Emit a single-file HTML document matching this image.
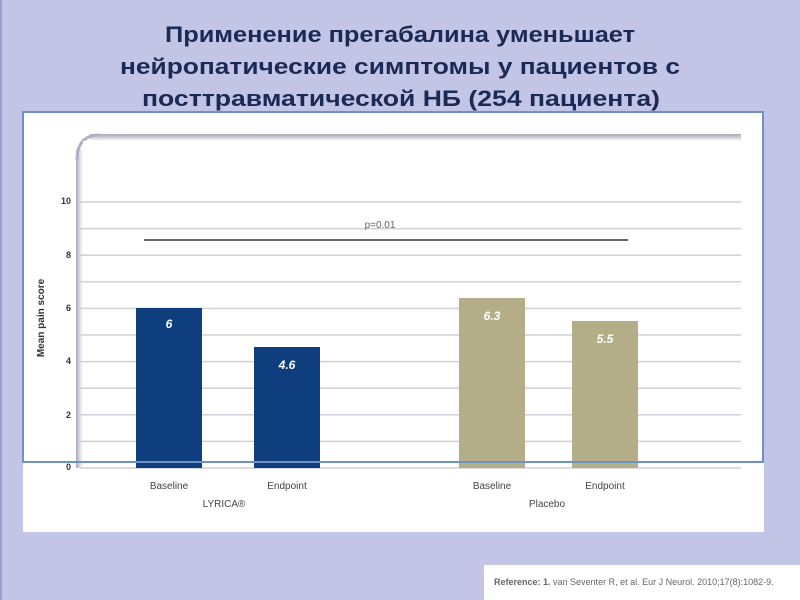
<!DOCTYPE html>
<html><head><meta charset="utf-8"><style>
html,body{margin:0;padding:0;}
body{width:800px;height:600px;background:#c3c5e6;overflow:hidden;position:relative;font-family:"Liberation Sans",sans-serif;}
</style></head><body>
<svg width="800" height="600" viewBox="0 0 800 600" xmlns="http://www.w3.org/2000/svg" style="position:absolute;left:0;top:0">
<defs>
<linearGradient id="sh" x1="0" y1="0" x2="0" y2="1">
<stop offset="0" stop-color="#a8a8b8"/><stop offset="0.4" stop-color="#c8c8cc"/><stop offset="1" stop-color="#ffffff"/>
</linearGradient>
<linearGradient id="shl" x1="0" y1="0" x2="1" y2="0">
<stop offset="0" stop-color="#a8a8c0"/><stop offset="0.5" stop-color="#d8d8e0"/><stop offset="1" stop-color="#ffffff"/>
</linearGradient>
</defs>
<rect x="0" y="0" width="2" height="600" fill="#9aa0c8"/>
<g font-family="Liberation Sans, DejaVu Sans, sans-serif" font-weight="bold" font-size="22" fill="#1b2a55" text-anchor="middle">
<text x="400" y="42" textLength="470" lengthAdjust="spacingAndGlyphs">Применение прегабалина уменьшает</text>
<text x="400" y="74" textLength="560" lengthAdjust="spacingAndGlyphs">нейропатические симптомы у пациентов с</text>
<text x="401" y="106" textLength="518" lengthAdjust="spacingAndGlyphs">посттравматической НБ (254 пациента)</text>
</g>
<rect x="23" y="112" width="741" height="420" fill="#fff"/>
<rect x="90" y="134" width="651" height="7" fill="url(#sh)"/>
<rect x="76" y="150" width="7" height="318" fill="url(#shl)"/>
<path d="M77 160 Q77 135 100 135" fill="none" stroke="#b0b2c8" stroke-width="3"/>
<rect x="83" y="141" width="658" height="327" fill="#fff"/>
<g stroke="#cfd0d8" stroke-width="1.5">
<line x1="80" y1="202" x2="741" y2="202"/><line x1="80" y1="228.6" x2="741" y2="228.6"/>
<line x1="80" y1="255.2" x2="741" y2="255.2"/><line x1="80" y1="281.8" x2="741" y2="281.8"/>
<line x1="80" y1="308.4" x2="741" y2="308.4"/><line x1="80" y1="335" x2="741" y2="335"/>
<line x1="80" y1="361.6" x2="741" y2="361.6"/><line x1="80" y1="388.2" x2="741" y2="388.2"/>
<line x1="80" y1="414.8" x2="741" y2="414.8"/><line x1="80" y1="441.4" x2="741" y2="441.4"/>
<line x1="80" y1="468" x2="741" y2="468"/>
</g>
<g font-family="Liberation Sans, sans-serif" font-size="9" font-weight="bold" fill="#333" text-anchor="end">
<text x="71" y="204">10</text><text x="71" y="258">8</text><text x="71" y="311">6</text>
<text x="71" y="364">4</text><text x="71" y="418">2</text><text x="71" y="470">0</text>
</g>
<text transform="translate(44,318) rotate(-90)" text-anchor="middle" font-size="10" font-weight="bold" fill="#333">Mean pain score</text>
<line x1="144" y1="240" x2="628" y2="240" stroke="#666" stroke-width="2"/>
<text x="380" y="228" text-anchor="middle" font-size="10" fill="#666">p=0.01</text>
<rect x="136" y="308" width="66" height="160" fill="#0e3e7e"/>
<rect x="254" y="347" width="66" height="121" fill="#0e3e7e"/>
<rect x="459" y="298" width="66" height="170" fill="#b4ae88"/>
<rect x="572" y="321" width="66" height="147" fill="#b4ae88"/>
<g font-size="12" font-weight="bold" font-style="italic" fill="#fff" text-anchor="middle">
<text x="169" y="328">6</text><text x="287" y="369">4.6</text>
<text x="492" y="320">6.3</text><text x="605" y="343">5.5</text>
</g>
<rect x="23" y="112" width="740" height="350" fill="none" stroke="#6e92c8" stroke-width="2"/>
<g font-size="10" fill="#444" text-anchor="middle">
<text x="169" y="489">Baseline</text><text x="287" y="489">Endpoint</text>
<text x="224" y="507">LYRICA®</text>
<text x="492" y="489">Baseline</text><text x="605" y="489">Endpoint</text>
<text x="547" y="507">Placebo</text>
</g>
<rect x="484" y="565" width="316" height="35" fill="#fff"/>
<text x="494" y="585" font-size="9" fill="#666"><tspan font-weight="bold">Reference: 1.</tspan> van Seventer R, et al. Eur J Neurol. 2010;17(8):1082-9.</text>
</svg>
</body></html>
